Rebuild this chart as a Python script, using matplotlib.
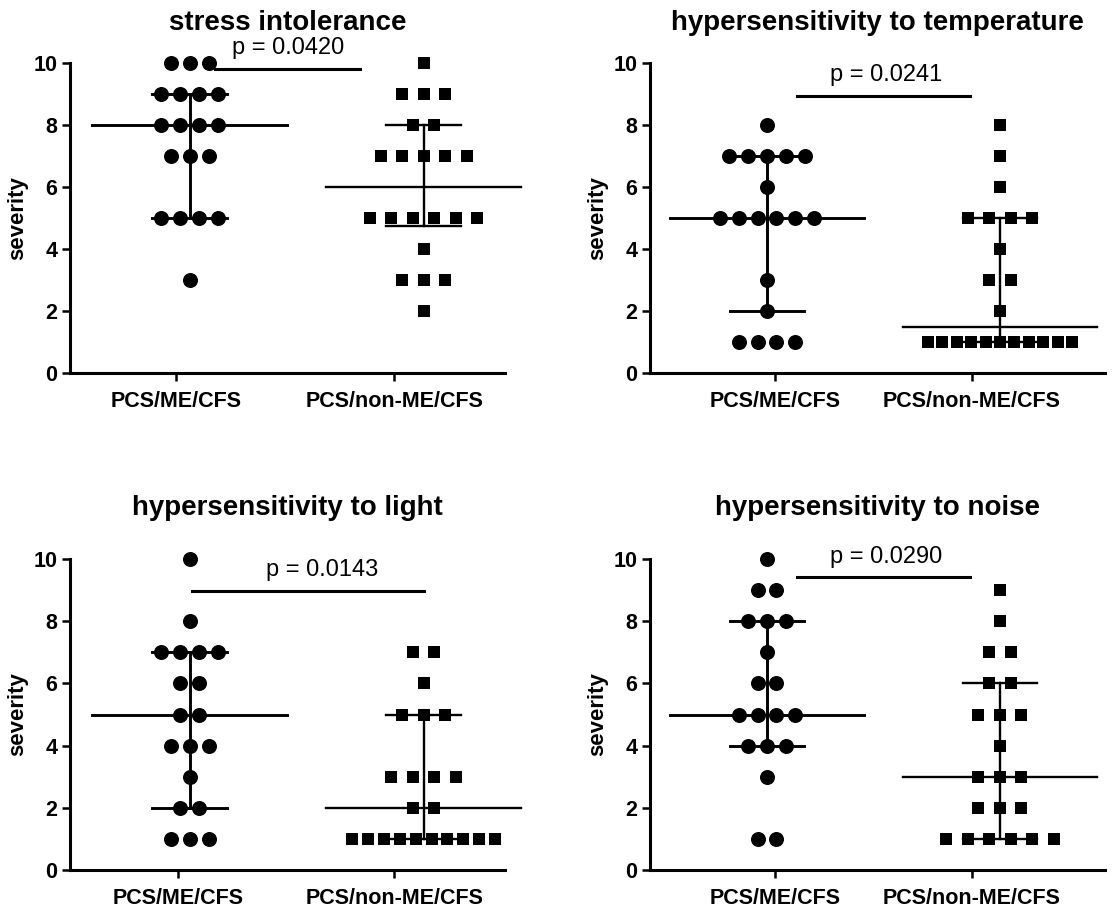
import numpy as np
import matplotlib
matplotlib.use("Agg")
import matplotlib.pyplot as plt

plt.rcParams['font.family'] = ['Liberation Sans', 'DejaVu Sans']

groups = ["PCS/ME/CFS", "PCS/non-ME/CFS"]
titles = ["stress intolerance", "hypersensitivity to temperature",
          "hypersensitivity to light", "hypersensitivity to noise"]
pvals = ["p = 0.0420", "p = 0.0241", "p = 0.0143", "p = 0.0290"]

# severity score -> number of patients with that score
stress_me = {10: 3, 9: 4, 8: 4, 7: 3, 5: 4, 3: 1}
stress_non = {10: 1, 9: 3, 8: 2, 7: 5, 5: 6, 4: 1, 3: 3, 2: 1}
temp_me = {8: 1, 7: 5, 6: 1, 5: 6, 3: 1, 2: 1, 1: 4}
temp_non = {8: 1, 7: 1, 6: 1, 5: 4, 4: 1, 3: 2, 2: 1, 1: 11}
light_me = {10: 1, 8: 1, 7: 4, 6: 2, 5: 2, 4: 3, 3: 1, 2: 2, 1: 3}
light_non = {7: 2, 6: 1, 5: 3, 3: 4, 2: 2, 1: 10}
noise_me = {10: 1, 9: 2, 8: 3, 7: 1, 6: 2, 5: 4, 4: 3, 3: 1, 1: 2}
noise_non = {9: 1, 8: 1, 7: 2, 6: 2, 5: 3, 4: 1, 3: 3, 2: 3, 1: 6}

panels = [(stress_me, stress_non), (temp_me, temp_non),
          (light_me, light_non), (noise_me, noise_non)]

# layout (figure pixels -> fractions), 1118 x 911
W, H = 1118, 911
axes_px = [(70, 505, 63, 373), (650, 1105, 63, 373),
           (70, 505, 559, 870), (650, 1105, 559, 870)]
xlims = [(-0.511, 1.348), (-0.502, 1.451), (-0.511, 1.348), (-0.502, 1.451)]
xticks = [(-0.058, 0.874), (0.034, 0.88), (-0.05, 0.874), (0.034, 0.88)]
pbar = [(0.11, 0.73, 9.8, 0.42, 10.48), (0.13, 0.87, 8.94, 0.51, 9.62),
        (0.01, 1.0, 8.97, 0.565, 9.65), (0.13, 0.87, 9.42, 0.51, 10.05)]


def quartiles(v):
    # GraphPad style percentiles, position (n+1)p
    v = np.sort(v)
    n = len(v)
    out = []
    for p in (0.25, 0.5, 0.75):
        pos = (n + 1) * p
        lo = int(np.floor(pos))
        frac = pos - lo
        lo = min(max(lo, 1), n)
        hi = min(lo + 1, n)
        out.append(v[lo - 1] + frac * (v[hi - 1] - v[lo - 1]))
    return out


fig = plt.figure(figsize=(W / 100, H / 100), dpi=100)

for k, (pair, title) in enumerate(zip(panels, titles)):
    l, r, t, b = axes_px[k]
    ax = fig.add_axes([l / W, 1 - b / H, (r - l) / W, (b - t) / H])
    for g, counts in enumerate(pair):
        marker = 'o' if g == 0 else 's'
        ms = 10.8 if g == 0 else 9.3
        base = 0.081 if g == 0 else 0.092
        xs, ys, vals = [], [], []
        for val, n in counts.items():
            sp = min(base, 0.68 / n)
            off = (np.arange(n) - (n - 1) / 2) * sp
            xs.extend(g + off)
            ys.extend([val] * n)
            vals.extend([val] * n)
        q1, med, q3 = quartiles(np.array(vals, dtype=float))
        lw = 2.1 if g == 0 else 1.7
        ax.plot([g - 0.415, g + 0.415], [med, med], color='black', lw=lw,
                clip_on=False, zorder=2)
        ax.plot([g - 0.16, g + 0.16], [q1, q1], color='black', lw=lw,
                clip_on=False, zorder=2)
        ax.plot([g - 0.16, g + 0.16], [q3, q3], color='black', lw=lw,
                clip_on=False, zorder=2)
        ax.plot([g, g], [q1, q3], color='black', lw=lw, clip_on=False, zorder=2)
        ax.plot(xs, ys, linestyle='none', marker=marker, ms=ms, color='black',
                markeredgewidth=0, clip_on=False, zorder=3)

    x0, x1, yb, xt, yt = pbar[k]
    ax.plot([x0, x1], [yb, yb], color='black', lw=2.2, clip_on=False)
    ax.text(xt, yt, pvals[k], ha='center', va='center', fontsize=17)

    ax.set_xlim(*xlims[k])
    ax.set_ylim(0, 10)
    ax.set_yticks([0, 2, 4, 6, 8, 10])
    ax.set_xticks(xticks[k])
    ax.set_xticklabels(groups, fontsize=15.5, fontweight='bold')
    for lab in ax.get_yticklabels():
        lab.set_fontsize(15.5)
        lab.set_fontweight('bold')
    ax.spines['top'].set_visible(False)
    ax.spines['right'].set_visible(False)
    ax.spines['left'].set_linewidth(2.2)
    ax.spines['bottom'].set_linewidth(2.2)
    ax.tick_params(axis='both', direction='out', length=6, width=1.8, pad=3)
    ax.tick_params(axis='x', pad=7)
    ax.set_ylabel("severity", fontsize=16, fontweight='bold', labelpad=4)
    ax.set_title(title, fontsize=20, fontweight='bold',
                 pad=24 if k < 2 else 32)

fig.savefig("out.png", dpi=100)
